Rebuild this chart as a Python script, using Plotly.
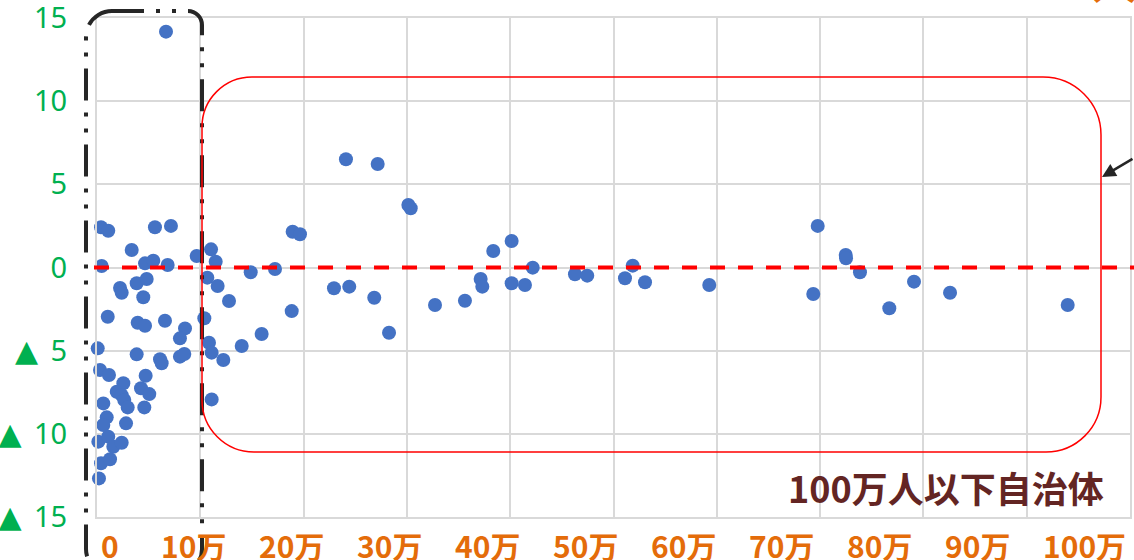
import plotly.graph_objects as go

# 人口（万人）と増減率（%）: 1点 = 1自治体
pop_man = [
    6.68, 0.39, 1.09, 5.61, 7.16, 3.36, 0.45, 4.65, 5.45, 6.84,
    9.65, 11.04, 11.49, 14.88, 10.68, 11.68, 12.78, 2.23, 2.39, 3.84,
    4.81, 4.48, 1.04, 3.94, 4.65, 6.58, 8.52, 8.03, 10.39, 10.84,
    11.10, 12.23, 14.01, 15.94, 0.07, 3.84, 6.10, 6.26, 8.03, 8.45,
    0.29, 1.16, 4.71, 2.55, 1.91, 2.39, 2.64, 2.97, 4.26, 5.06,
    4.58, 0.61, 0.94, 0.61, 2.81, 0.13, 1.09, 1.58, 2.39, 0.39,
    1.26, 0.19, 11.10, 24.10, 27.17, 30.14, 30.37, 18.94, 19.65, 17.23,
    22.94, 24.42, 26.84, 18.85, 28.27, 32.72, 35.62, 37.14, 37.30, 38.36,
    40.14, 42.18, 40.14, 41.43, 46.27, 47.46, 51.86, 51.11, 53.05, 59.27,
    69.77, 69.34, 72.48, 72.51, 73.86, 76.70, 79.09, 82.58, 93.97,
]
change = [
    14.18, 2.42, 2.21, 2.42, 2.50, 1.05, 0.09, 0.25, 0.41, 0.15,
    0.69, 1.09, 0.35, -0.29, -0.61, -1.11, -2.01, -1.23, -1.52, -0.95,
    -0.69, -1.79, -2.96, -3.32, -3.50, -3.20, -3.66, -4.26, -3.05, -4.52,
    -5.12, -5.56, -4.72, -4.00, -4.86, -5.22, -5.52, -5.76, -5.36, -5.20,
    -6.16, -6.46, -6.51, -6.96, -7.47, -7.67, -7.97, -8.41, -7.26, -7.61,
    -8.41, -8.17, -9.01, -9.47, -9.37, -10.47, -10.17, -10.78, -10.54, -11.77,
    -11.53, -12.68, -7.93, 6.51, 6.22, 3.76, 3.56, 2.15, 2.00, -0.09,
    -1.25, -1.15, -1.82, -2.62, -3.92, -2.25, -2.00, -0.69, -1.15, 0.99,
    1.59, -0.01, -0.95, -1.05, -0.41, -0.49, 0.11, -0.65, -0.89, -1.05,
    2.50, -1.59, 0.75, 0.55, -0.29, -2.45, -0.85, -1.52, -2.25,
]

x_tick_vals = [0, 10, 20, 30, 40, 50, 60, 70, 80, 90, 100]
x_tick_text = ["0", "10万", "20万", "30万", "40万", "50万",
               "60万", "70万", "80万", "90万", "100万"]
y_tick_vals = [-15, -10, -5, 0, 5, 10, 15]
TRI = "<span style='font-family:DejaVu Sans;font-size:30px'>▲</span>\u2004\u200a"
y_tick_text = [TRI + "15", TRI + "10", TRI + "5", "0", "5", "10", "15"]

# canvas / plot-area geometry (px)
W, H = 1134, 560
ML, MR, MT, MB = 97, 4, 18, 43
PW, PH = W - ML - MR, H - MT - MB


def paper(px, py):
    return (px - ML) / PW, (H - MB - py) / PH


def rounded_rect(x0, y0, x1, y1, r_tl, r_tr, r_br, r_bl):
    """Rounded rectangle path (pixel box -> paper coords)."""
    k = 0.5523

    def p(x, y):
        a, b = paper(x, y)
        return f"{a:.5f},{b:.5f}"

    pts = [
        f"M{p(x0 + r_tl, y0)}",
        f"L{p(x1 - r_tr, y0)}",
        f"C{p(x1 - r_tr + k * r_tr, y0)} {p(x1, y0 + r_tr - k * r_tr)} {p(x1, y0 + r_tr)}",
        f"L{p(x1, y1 - r_br)}",
        f"C{p(x1, y1 - r_br + k * r_br)} {p(x1 - r_br + k * r_br, y1)} {p(x1 - r_br, y1)}",
        f"L{p(x0 + r_bl, y1)}",
        f"C{p(x0 + r_bl - k * r_bl, y1)} {p(x0, y1 - r_bl + k * r_bl)} {p(x0, y1 - r_bl)}",
        f"L{p(x0, y0 + r_tl)}",
        f"C{p(x0, y0 + r_tl - k * r_tl)} {p(x0 + r_tl - k * r_tl, y0)} {p(x0 + r_tl, y0)}",
    ]
    return " ".join(pts) + " Z"


fig = go.Figure()
fig.add_trace(go.Scatter(
    x=pop_man, y=change, mode="markers",
    marker=dict(color="#4472C4", size=14, line=dict(width=0)),
    hoverinfo="skip", showlegend=False, cliponaxis=False,
))

grid = "#D9D9D9"
fig.update_layout(
    width=W, height=H,
    margin=dict(l=ML, r=MR, t=MT, b=MB, pad=0, autoexpand=False),
    paper_bgcolor="white", plot_bgcolor="white",
    xaxis=dict(
        range=[0, 100], tickvals=x_tick_vals, showticklabels=False,
        showgrid=True, gridcolor=grid, gridwidth=2,
        zeroline=False, showline=True, linecolor=grid, linewidth=2, mirror=True,
        ticks="", automargin=False,
    ),
    yaxis=dict(
        range=[-15, 15], tickvals=y_tick_vals, ticktext=y_tick_text,
        tickfont=dict(family="Noto Sans", size=29, color="#00B050"),
        showgrid=True, gridcolor=grid, gridwidth=2,
        zeroline=False, showline=True, linecolor=grid, linewidth=2, mirror=True,
        ticks="", ticklabelstandoff=22, automargin=False,
        ticklabeloverflow="allow",
    ),
)

shapes = []
# 10万人未満の枠（一点鎖線）
shapes.append(dict(
    type="path", xref="paper", yref="paper", layer="above",
    path=rounded_rect(86, 11, 202, 575, 26, 14, 26, 26),
    line=dict(color="#262626", width=4, dash="32px,12px,4px,12px,4px,12px"),
    fillcolor="rgba(0,0,0,0)",
))
# 10万〜100万人の枠
shapes.append(dict(
    type="path", xref="paper", yref="paper", layer="above",
    path=rounded_rect(202, 77, 1101, 452, 50, 58, 55, 52),
    line=dict(color="#FF0000", width=1.5),
    fillcolor="rgba(0,0,0,0)",
))
# 増減ゼロの基準線
x_start, _ = paper(94, 0)
x_end, _ = paper(W, 0)
shapes.append(dict(
    type="line", xref="paper", yref="y", layer="above",
    x0=x_start, x1=x_end, y0=0, y1=0,
    line=dict(color="#FF0000", width=4, dash="15px,13px"),
))
fig.update_layout(shapes=shapes)

annotations = []
# x軸ラベル
for i, txt in enumerate(x_tick_text):
    left_px = 100 if i == 0 else 62 + 98 * i
    ax_, ay_ = paper(left_px, 522)
    annotations.append(dict(
        x=ax_, y=ay_, xref="paper", yref="paper", text=txt, showarrow=False,
        xanchor="left", yanchor="top", borderpad=0,
        font=dict(family="Noto Sans CJK JP", size=30, color="#E46C0A", weight="bold"),
    ))

# 枠のラベル
lx, ly = paper(1106, 487)
annotations.append(dict(
    x=lx, y=ly, xref="paper", yref="paper", text="100万人以下自治体",
    showarrow=False, xanchor="right", yanchor="middle",
    font=dict(family="Noto Sans CJK JP", size=36, color="#632523", weight="bold"),
))

# 枠を指す矢印
tx, ty = paper(1102, 177)
annotations.append(dict(
    x=tx, y=ty, xref="paper", yref="paper", text="", showarrow=True,
    ax=40, ay=-19, arrowhead=2, arrowsize=1.1, arrowwidth=2.5, arrowcolor="#262626",
))

# 上部見出し（端のみ）
hx, hy = paper(1114, 14)
annotations.append(dict(
    x=hx, y=hy, xref="paper", yref="paper", text="人", showarrow=False,
    xanchor="center", yanchor="bottom",
    font=dict(family="Noto Sans CJK JP", size=46, color="#E46C0A", weight="bold"),
))

fig.update_layout(annotations=annotations)

fig.write_html("out.html")
